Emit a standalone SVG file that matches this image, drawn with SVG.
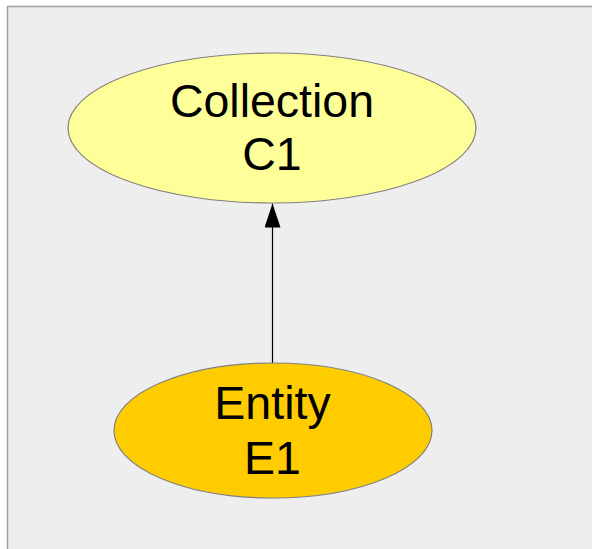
<svg xmlns="http://www.w3.org/2000/svg" width="592" height="549" viewBox="0 0 592 549">
<style>
.node{stroke:#808080;stroke-width:1.2}
.lbl{font-family:"Liberation Sans",Arial,sans-serif;font-size:46.5px;fill:#000;text-anchor:middle}
.edge{stroke:#000;stroke-width:1.2;fill:none}
</style>
<defs>
<marker id="arr" markerUnits="userSpaceOnUse" markerWidth="24" markerHeight="16" refX="24" refY="8" viewBox="0 0 24 16" orient="auto">
<path d="M0,0 L24,8 L0,16 Z" fill="#000"/>
</marker>
</defs>
<rect x="0" y="0" width="592" height="549" fill="#ffffff"/>
<rect x="7.5" y="6.5" width="600" height="560" fill="#eeeeee" stroke="#a0a0a0" stroke-width="1.5"/>
<g id="connectors">
<line class="edge" x1="272.5" y1="363" x2="272.5" y2="203.5" marker-end="url(#arr)"/>
</g>
<g id="collection-c1">
<ellipse class="node" cx="272" cy="128" rx="204" ry="75" fill="#ffff99"/>
<text class="lbl" x="272" y="117">Collection</text>
<text class="lbl" x="272" y="170">C1</text>
</g>
<g id="entity-e1">
<ellipse class="node" cx="273" cy="430.5" rx="159" ry="67.5" fill="#ffcc00"/>
<text class="lbl" x="272.5" y="418.5">Entity</text>
<text class="lbl" x="272.5" y="473.5">E1</text>
</g>
</svg>
